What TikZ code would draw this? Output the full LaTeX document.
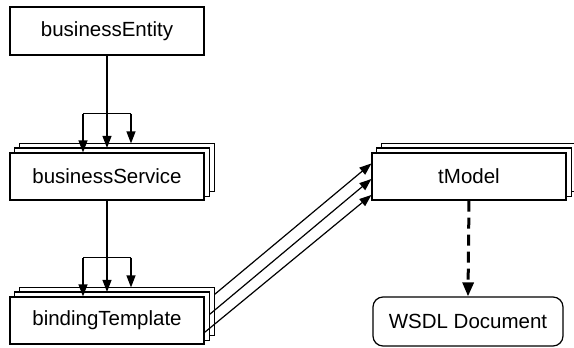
\documentclass[tikz,border=0pt]{standalone}
\usepackage{fontspec}
\setmainfont{Liberation Sans}
\usetikzlibrary{arrows.meta,calc}
\pgfdeclarelayer{background}
\pgfsetlayers{background,main}
\begin{document}
\begin{tikzpicture}[x=1pt,y=-1pt,
  box/.style={draw,line width=1.2pt,fill=white,minimum width=194pt,minimum height=47pt,inner sep=0pt,font=\fontsize{20.5}{24}\selectfont},
  rbox/.style={box,rounded corners=10pt,minimum width=190pt,minimum height=49pt},
  sheet/.style={draw,line width=1.2pt,fill=white},
  conn/.style={line width=1.2pt},
  arr/.style={line width=1.2pt,-{Triangle[length=12pt,width=9pt]}},
  darr/.style={line width=3pt,dash pattern=on 11pt off 6pt,-{Triangle[length=14pt,width=11pt]}}]
\useasboundingbox (0,0) rectangle (574,348);
\clip (0,0) rectangle (574,348);

\node[box,minimum height=48pt] (be) at (107,31) {businessEntity};
\node[box] (bs) at (107,176.5) {businessService};
\node[box] (bt) at (107,320.5) {bindingTemplate};
\node[box] (tm) at (469,176.5) {tModel};
\node[rbox] (wsdl) at (468,321.5) {WSDL Document};

\begin{pgfonlayer}{background}
  \foreach \n in {bs,bt,tm}{
    \draw[sheet] ($(\n.south west)+(10,-9)$) rectangle ($(\n.north east)+(10,-9)$);
    \draw[sheet] ($(\n.south west)+(5,-4.5)$) rectangle ($(\n.north east)+(5,-4.5)$);
  }
\end{pgfonlayer}

% businessEntity -> businessService
\draw[conn] (be.south) -- ++(0,58) coordinate (j1);
\coordinate (j1l) at ($(j1)+(-24,0)$);
\coordinate (j1r) at ($(j1)+(24,0)$);
\draw[conn] (j1l) -- (j1r);
\draw[arr] (j1l) -- (j1l |- bs.north);
\draw[arr] (j1) -- ($(bs.north)+(0,-4.5)$);
\draw[arr] (j1r) -- ($(j1r |- bs.north)+(0,-9)$);

% businessService -> bindingTemplate
\draw[conn] (bs.south) -- ++(0,57) coordinate (j2);
\coordinate (j2l) at ($(j2)+(-24,0)$);
\coordinate (j2r) at ($(j2)+(24,0)$);
\draw[conn] (j2l) -- (j2r);
\draw[arr] (j2l) -- (j2l |- bt.north);
\draw[arr] (j2) -- ($(bt.north)+(0,-4.5)$);
\draw[arr] (j2r) -- ($(j2r |- bt.north)+(0,-9)$);

% bindingTemplate -> tModel
\draw[arr] ($(bt.north east)+(10,-2)$) -- ($(tm.west)+(0,-13)$);
\draw[arr] ($(bt.north east)+(5,18)$) -- ($(tm.west)+(0,2.5)$);
\draw[arr] ($(bt.north east)+(0,36)$) -- ($(tm.west)+(0,18.5)$);

% tModel -> WSDL
\draw[darr] (tm.south) -- (wsdl.north);
\end{tikzpicture}
\end{document}
